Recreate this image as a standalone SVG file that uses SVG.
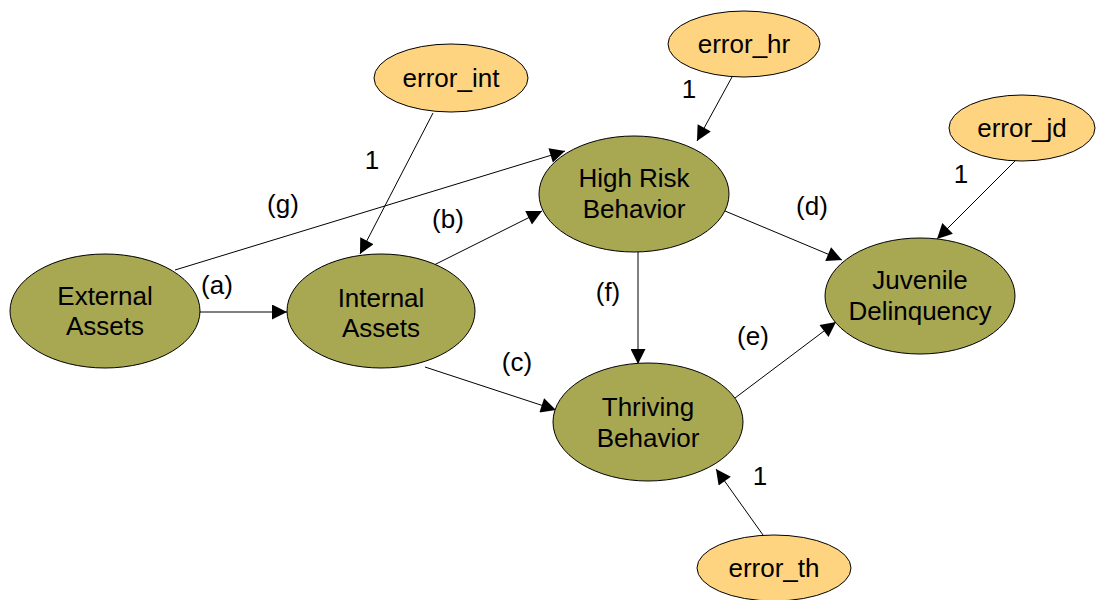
<svg xmlns="http://www.w3.org/2000/svg" width="1097" height="600" viewBox="0 0 1097 600">
<style>
.n{fill:#a8a752;stroke:#000;stroke-width:1}
.e{fill:#fed481;stroke:#000;stroke-width:1}
text{font-family:"Liberation Sans",Arial,sans-serif;font-size:26px;fill:#000;text-anchor:middle}
.c line{stroke:#000;stroke-width:1;marker-end:url(#ah)}
</style>
<defs>
<marker id="ah" viewBox="0 0 10 10" refX="10" refY="5" markerWidth="21" markerHeight="15" markerUnits="userSpaceOnUse" orient="auto"><path d="M0,0 L10,5 L0,10 z" fill="#000"/></marker>
</defs>
<rect width="1097" height="600" fill="#fff"/>
<g class="c">
<line x1="199" y1="312" x2="287" y2="312"/>
<line x1="175" y1="270" x2="565" y2="151"/>
<line x1="434" y1="265" x2="542" y2="211"/>
<line x1="425" y1="367" x2="556" y2="410"/>
<line x1="433" y1="113" x2="360" y2="254"/>
<line x1="732" y1="77" x2="697" y2="141"/>
<line x1="725" y1="211" x2="842" y2="260"/>
<line x1="638" y1="252" x2="638" y2="364"/>
<line x1="735" y1="398" x2="836" y2="322"/>
<line x1="1016" y1="160" x2="937" y2="239"/>
<line x1="763" y1="535" x2="716" y2="469"/>
</g>
<g id="labels">
<text x="217" y="294">(a)</text>
<text x="283" y="213">(g)</text>
<text x="448" y="228">(b)</text>
<text x="517" y="371">(c)</text>
<text x="812" y="215">(d)</text>
<text x="608" y="301">(f)</text>
<text x="753" y="345">(e)</text>
<text x="372" y="169">1</text>
<text x="689" y="98">1</text>
<text x="961" y="183">1</text>
<text x="760" y="485">1</text>
</g>
<g id="external"><ellipse class="n" cx="105" cy="311" rx="95" ry="57"/><text x="105" y="305">External</text><text x="105" y="335">Assets</text></g>
<g id="internal"><ellipse class="n" cx="381" cy="311" rx="94" ry="57"/><text x="381" y="307">Internal</text><text x="381" y="337">Assets</text></g>
<g id="highrisk"><ellipse class="n" cx="634" cy="194" rx="95" ry="58"/><text x="634" y="187">High Risk</text><text x="634" y="218">Behavior</text></g>
<g id="thriving"><ellipse class="n" cx="648" cy="422" rx="95" ry="59"/><text x="648" y="416">Thriving</text><text x="648" y="447">Behavior</text></g>
<g id="juvenile"><ellipse class="n" cx="920" cy="296" rx="95" ry="58"/><text x="920" y="289">Juvenile</text><text x="920" y="320">Delinquency</text></g>
<g id="error_int"><ellipse class="e" cx="451" cy="78" rx="77" ry="34"/><text x="451" y="87">error_int</text></g>
<g id="error_hr"><ellipse class="e" cx="744" cy="44" rx="76" ry="33"/><text x="744" y="53">error_hr</text></g>
<g id="error_jd"><ellipse class="e" cx="1022" cy="128" rx="73" ry="33"/><text x="1022" y="137">error_jd</text></g>
<g id="error_th"><ellipse class="e" cx="774" cy="568" rx="77" ry="33"/><text x="774" y="577">error_th</text></g>
</svg>
